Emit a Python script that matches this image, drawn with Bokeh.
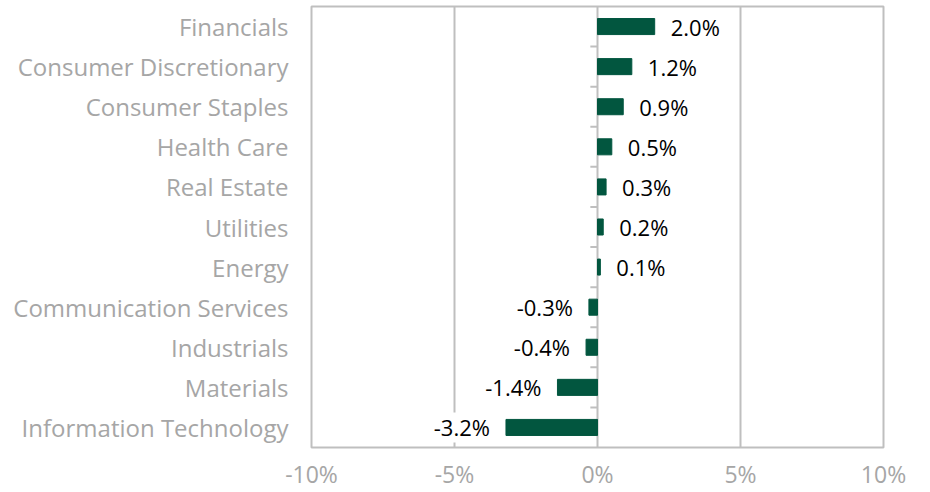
from bokeh.plotting import figure
from bokeh.models import ColumnDataSource, FactorRange, LabelSet, FixedTicker, Range1d
from bokeh.transform import dodge
from bokeh.core.properties import value
from bokeh.embed import file_html
from bokeh.resources import INLINE

categories = ["Financials", "Consumer Discretionary", "Consumer Staples", "Health Care",
              "Real Estate", "Utilities", "Energy", "Communication Services",
              "Industrials", "Materials", "Information Technology"]
values = [2.0, 1.2, 0.9, 0.5, 0.3, 0.2, 0.1, -0.3, -0.4, -1.4, -3.2]
x_ticks = [-10, -5, 0, 5, 10]
x_tick_labels = {-10: "-10%", -5: "-5%", 0: "0%", 5: "5%", 10: "10%"}

GRAY = "#bfbfbf"
GREEN = "#02563f"
FONT = "Open Sans"

p = figure(width=915, height=492, y_range=FactorRange(*categories[::-1]),
           x_range=Range1d(-10, 10), output_backend="svg", toolbar_location=None,
           min_border_left=311, min_border_right=32, min_border_top=6, min_border_bottom=44)

src = ColumnDataSource(dict(cat=categories, val=values))
p.hbar(y="cat", right="val", left=0, height=0.4, source=src, color=GREEN)

src_pos = ColumnDataSource(dict(cat=[c for c, v in zip(categories, values) if v >= 0],
                                val=[v for v in values if v >= 0],
                                lbl=[f"{v:.1f}%" for v in values if v >= 0]))
src_neg = ColumnDataSource(dict(cat=[c for c, v in zip(categories, values) if v < 0],
                                val=[v for v in values if v < 0],
                                lbl=[f"{v:.1f}%" for v in values if v < 0]))

for s, align, off in [(src_pos, "left", 16), (src_neg, "right", -16)]:
    ls = LabelSet(x="val", y="cat", text="lbl", source=s, x_offset=off,
                  text_align=align, text_baseline="middle", text_font=value(FONT),
                  text_font_size="22px", text_color="black",
                  background_fill_color="white", background_fill_alpha=1.0)
    p.add_layout(ls)

# small category separator ticks at the zero line
tick_src = ColumnDataSource(dict(cat=categories[:-1], x0=[-0.25] * (len(categories) - 1),
                                 x1=[0] * (len(categories) - 1)))
p.segment(x0="x0", x1="x1", y0=dodge("cat", -0.5, range=p.y_range),
          y1=dodge("cat", -0.5, range=p.y_range), source=tick_src,
          line_color=GRAY, line_width=2)

p.outline_line_color = GRAY
p.outline_line_width = 2
p.ygrid.grid_line_color = None
p.xgrid.grid_line_color = GRAY
p.xgrid.grid_line_width = 2
p.xgrid.ticker = FixedTicker(ticks=[-5, 0, 5])
p.xgrid.level = "underlay"

p.xaxis.ticker = FixedTicker(ticks=x_ticks)
p.xaxis.major_label_overrides = x_tick_labels
p.xaxis.axis_line_color = None
p.xaxis.major_tick_line_color = None
p.xaxis.minor_tick_line_color = None
p.xaxis.major_label_text_color = "#a6a6a6"
p.xaxis.major_label_text_font = FONT
p.xaxis.major_label_text_font_size = "23px"
p.xaxis.major_label_standoff = 4

p.yaxis.axis_line_color = None
p.yaxis.major_tick_line_color = None
p.yaxis.minor_tick_line_color = None
p.yaxis.major_label_text_color = "#a6a6a6"
p.yaxis.major_label_text_font = FONT
p.yaxis.major_label_text_font_size = "24px"
p.yaxis.major_label_standoff = 17

p.background_fill_color = "white"
p.border_fill_color = "white"

open("out.html", "w").write(file_html(p, INLINE))
